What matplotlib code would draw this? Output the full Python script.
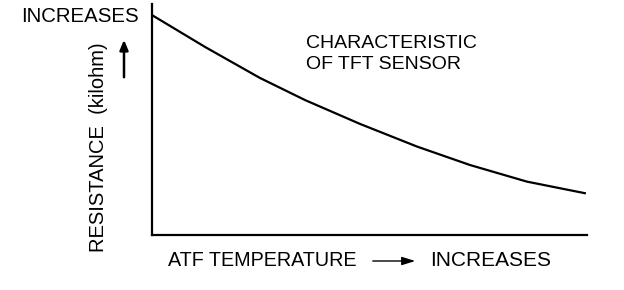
import matplotlib
matplotlib.use("Agg")
import matplotlib.pyplot as plt

plt.rcParams["font.family"] = ["Liberation Sans", "DejaVu Sans"]

# Curve (arbitrary units, 0..100 on both axes)
temperature = [0, 12.2, 24.8, 35.2, 47.8, 60.9, 73.1, 86.2, 99.5]
resistance = [95.2, 81.4, 68.0, 58.4, 48.1, 38.3, 30.3, 23.1, 18.1]

x_label = "ATF TEMPERATURE"
y_label = "RESISTANCE  (kilohm)"
increases_label = "INCREASES"
note_label = "CHARACTERISTIC\nOF TFT SENSOR"

fig = plt.figure(figsize=(6.24, 2.90), dpi=100)
ax = fig.add_axes([152 / 624, 55 / 290, 435 / 624, 231 / 290])

ax.plot(temperature, resistance, color="black", linewidth=1.6)
ax.set_xlim(0, 100)
ax.set_ylim(0, 100)

for side in ("top", "right"):
    ax.spines[side].set_visible(False)
for side in ("left", "bottom"):
    ax.spines[side].set_linewidth(1.6)
ax.set_xticks([])
ax.set_yticks([])

# texts placed in figure pixels
def fx(px):
    return px / 624

def fy(py):
    return 1 - py / 290

fig.text(fx(21), fy(17), increases_label, fontsize=14.7, ha="left", va="center")
fig.text(fx(98), fy(147), y_label, fontsize=14.5, rotation=90, ha="center", va="center")
fig.text(fx(168), fy(261), x_label, fontsize=14.2, ha="left", va="center")
fig.text(fx(430), fy(261), increases_label, fontsize=15, ha="left", va="center")
fig.text(fx(306), fy(54), note_label, fontsize=14, ha="left", va="center",
         linespacing=1.25)

# up arrow next to y label
fig.add_artist(matplotlib.patches.FancyArrowPatch(
    (fx(124), fy(80)), (fx(124), fy(37)), transform=fig.transFigure,
    arrowstyle="-|>,head_length=6,head_width=2.5", color="black",
    linewidth=1.8, mutation_scale=1))

# right arrow between x label words
fig.add_artist(matplotlib.patches.FancyArrowPatch(
    (fx(370), fy(261)), (fx(418), fy(261)), transform=fig.transFigure,
    arrowstyle="-|>,head_length=8,head_width=2.5", color="black",
    linewidth=1.0, mutation_scale=1))

fig.savefig("out.png", dpi=100, facecolor="white")
